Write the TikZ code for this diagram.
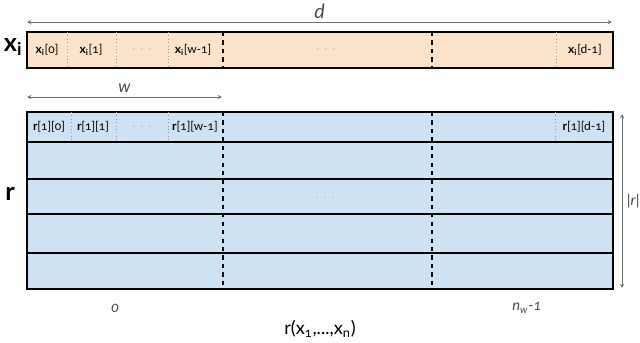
\documentclass[tikz,border=0pt]{standalone}
\usepackage{fontspec}
\setmainfont{Lato}[Numbers=OldStyle]
\usepackage{xcolor}
\usepackage{tikz}

\definecolor{xfill}{HTML}{FCE4CC}
\definecolor{rfill}{HTML}{CFE2F3}
\definecolor{dimgrey}{HTML}{707070}
\definecolor{textgrey}{HTML}{4A4A4A}
\definecolor{dotgrey}{HTML}{9A9A9A}

\tikzset{
 cell/.style={font=\fontsize{8.5}{10}\selectfont, inner sep=0pt},
 dim/.style={<->, >=stealth, draw=dimgrey, thin},
 bar/.style={draw=black, line width=1pt},
 split/.style={dashed, thick},
 sep/.style={dotted, draw=dotgrey, thin}
}

\begin{document}
\begin{tikzpicture}[x=0.025cm, y=-0.025cm]
 \useasboundingbox (0,0) rectangle (640,343);
 % input vector and result matrix
 \draw[bar, fill=xfill] (27,32) rectangle (613,68);
 \draw[bar, fill=rfill] (27,112) rectangle (613,289);
 \foreach \y in {142,179,214,253}
  \draw[bar] (27,\y) -- (613,\y);
 \foreach \x in {223,432} {
  \draw[split] (\x,32) -- (\x,68);
  \draw[split] (\x,112) -- (\x,289);
 }
 \foreach \x in {67,116,168,556}
  \draw[sep] (\x,32) -- (\x,68);
 \foreach \x in {71,116,168,555}
  \draw[sep] (\x,112) -- (\x,142);
 % cell labels
 \node[cell] (X0) at (47,50) {\textbf{x}\textsubscript{\textbf{i}}[0]};
 \node[cell] (X1) at (91,50) {\textbf{x}\textsubscript{\textbf{i}}[1]};
 \node[cell, text=dotgrey] (XD) at (142,50) {$\cdot\,\cdot\,\cdot$};
 \node[cell] (XW) at (193,50) {\textbf{x}\textsubscript{\textbf{i}}[w-1]};
 \node[cell, text=dotgrey] (XM) at (326,50) {$\cdot\,\cdot\,\cdot$};
 \node[cell] (XL) at (585,50) {\textbf{x}\textsubscript{\textbf{i}}[d-1]};
 \node[cell] (R0) at (49,127) {\textbf{r}[1][0]};
 \node[cell] (R1) at (93,127) {\textbf{r}[1][1]};
 \node[cell, text=dotgrey] (RD) at (142,127) {$\cdot\,\cdot\,\cdot$};
 \node[cell] (RW) at (195,127) {\textbf{r}[1][w-1]};
 \node[cell, text=dotgrey] (RM) at (325,198) {$\cdot\,\cdot\,\cdot$};
 \node[cell] (RL) at (584,127) {\textbf{r}[1][d-1]};
 % side and bottom labels
 \node[font=\fontsize{18}{20}\selectfont, inner sep=0pt] (XI) at (13,47) {\textbf{x}\textsubscript{\textbf{i}}};
 \node[font=\fontsize{18}{20}\selectfont, inner sep=0pt] (RR) at (10,194) {\textbf{r}};
 \node[font=\fontsize{10.5}{12}\selectfont, text=textgrey] (FIRST) at (115,308) {\textit{0}};
 \node[font=\fontsize{10.5}{12}\selectfont, text=textgrey] (LAST) at (527,308) {\textit{n}\textsubscript{\textit{w}}\textit{-1}};
 \node[font=\fontsize{13}{15}\selectfont] (FUNC) at (320,329) {r(x\textsubscript{1},...,x\textsubscript{n})};
 % dimensions
 \coordinate (dL) at (27,22);
 \coordinate (dR) at (612,22);
 \coordinate (wL) at (27,97);
 \coordinate (wR) at (222,97);
 \coordinate (rT) at (622,114);
 \coordinate (rB) at (622,288);
 \draw[dim] (dL) -- node[above=-1pt, font=\fontsize{14}{16}\selectfont, text=textgrey] {\textit{d}} (dR);
 \draw[dim] (wL) -- node[above=0pt, font=\fontsize{12}{14}\selectfont, text=textgrey] {\textit{w}} (wR);
 \draw[dim] (rT) -- node[right=0pt, font=\fontsize{10.5}{12}\selectfont, text=textgrey] {|\textit{r}|} (rB);
\end{tikzpicture}
\end{document}
